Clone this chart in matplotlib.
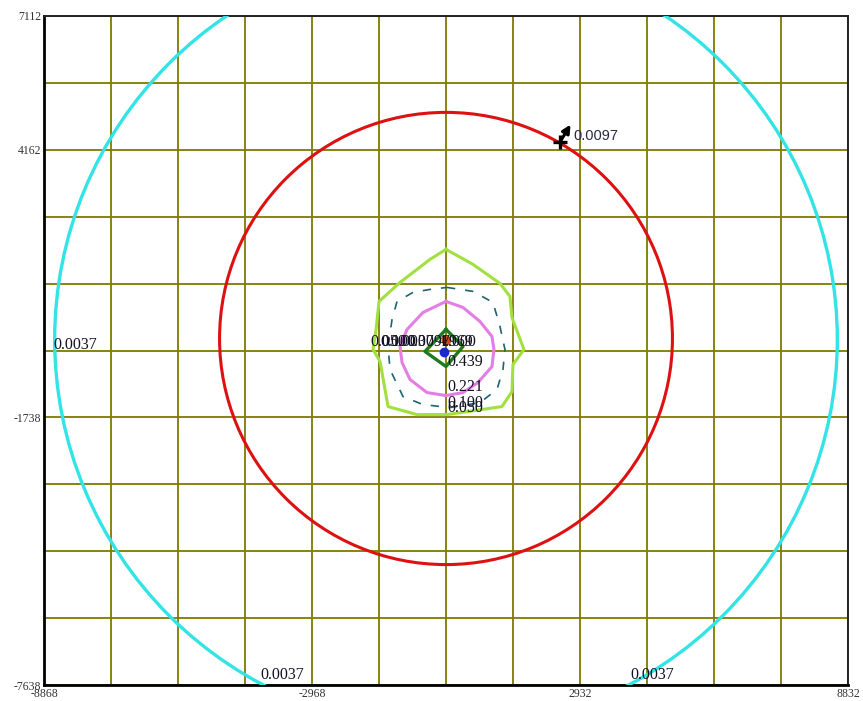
import numpy as np
import matplotlib.pyplot as plt
from matplotlib.patches import Circle
from matplotlib.ticker import FixedLocator

# axis frame
xmin, xmax = -8868, 8832
ymin, ymax = -7638, 7112
step = 1475
xtick_vals = [-8868, -2968, 2932, 8832]
xtick_text = ["-8868", "-2968", "2932", "8832"]
ytick_vals = [7112, 4162, -1738, -7638]
ytick_text = ["7112", "4162", "-1738", "-7638"]

# contour 0.0037 (cyan) and 0.0097 (red): nearly round, centre + radius
cyan_center = (-18, -20)
cyan_radius = 8615
red_center = (-18, 2)
red_radius = 4985

# contour 0.050 (lime)
lime_x = [-18, 576, 1170, 1390, 1434, 1698, 1456, 1434, 1214, 4, -656, -1294, -1470, -1624,
          -1558, -1492, -1030, -370, -18]
lime_y = [1967, 1636, 1216, 929, 466, -241, -572, -1168, -1499, -1676, -1676, -1499, -506, -241,
          201, 819, 1238, 1746, 1967]

# contour 0.100 (dashed teal)
teal_x = [4, 576, 1016, 1170, 1280, 1236, 1104, 730, 70, -524, -964, -1250, -1294, -1206,
          -1096, -744, -370, 4]
teal_y = [1128, 1040, 797, 267, -241, -683, -1124, -1411, -1522, -1455, -1279, -683, -175, 421,
          819, 1018, 1084, 1128]

# contour 0.221 (violet)
violet_x = [-18, 356, 730, 994, 1038, 994, 686, 356, -18, -436, -810, -986, -1030, -876, -524, -18]
violet_y = [819, 686, 377, 46, -241, -616, -970, -1190, -1257, -1190, -903, -528, -175, 201, 576, 819]

# contour 0.439 (dark green)
dgreen_x = [-18, 356, -18, -480, -18]
dgreen_y = [201, -175, -616, -285, 201]

# source points
src_red = (-18, -42)
src_blue = (-62, -307)

# contour labels: text, x, y, vertical alignment
labels = [
    ("0.0037", -8664, -131, "center"),
    ("0.0037", -4110, -7600, "bottom"),
    ("0.0037", 4030, -7600, "bottom"),
    ("0.439", 4, -506, "center"),
    ("0.221", 4, -1058, "center"),
    ("0.100", 4, -1411, "center"),
    ("0.050", 4, -1522, "center"),
    ("0.050", -1690, -86, "center"),
    ("0.100", -1470, -86, "center"),
    ("0.0037", -1250, -86, "center"),
    ("0.0097", -900, -86, "center"),
    ("4.969", -194, -86, "center"),
    ("1.000", -130, -86, "center"),
]
mark_0097 = (2490, 4330)
arrow_0097 = (2755, 4770)
text_0097 = (2776, 4462)

fig = plt.figure(figsize=(8.63, 7.01), dpi=100)
ax = fig.add_axes([44 / 863, 16 / 701, 804 / 863, 669 / 701])
ax.set_xlim(xmin, xmax)
ax.set_ylim(ymin, ymax)

ax.xaxis.set_major_locator(FixedLocator(xtick_vals))
ax.yaxis.set_major_locator(FixedLocator(ytick_vals))
ax.set_xticklabels(xtick_text, family="Liberation Serif", fontsize=8.5, color="#333333")
ax.set_yticklabels(ytick_text, family="Liberation Serif", fontsize=8.5, color="#333333")
ax.tick_params(length=0, pad=2)

for gx in np.arange(xmin, xmax + 1, step):
    ax.axvline(gx, color="#7f7a00", lw=1.3, zorder=1)
for gy in np.arange(ymax, ymin - 1, -step):
    ax.axhline(gy, color="#7f7a00", lw=1.3, zorder=1)

ax.add_patch(Circle(cyan_center, cyan_radius, fill=False, ec="#33e3e6", lw=2.4, zorder=3))
ax.add_patch(Circle(red_center, red_radius, fill=False, ec="#dd1111", lw=2.2, zorder=3))
ax.plot(lime_x, lime_y, color="#a2e040", lw=2.2, zorder=3)
ax.plot(teal_x, teal_y, color="#1d6470", lw=1.2, dashes=(5, 6), zorder=3)
ax.plot(violet_x, violet_y, color="#e47de4", lw=2.2, zorder=3)
ax.plot(dgreen_x, dgreen_y, color="#1e7a1e", lw=2.4, zorder=4)
ax.plot(*src_red, "o", color="#cc4a1a", ms=6, zorder=5)
ax.plot(*src_blue, "o", color="#1a2ad0", ms=6, zorder=5)

for t, x, y, va in labels:
    ax.text(x, y, t, family="Liberation Serif", fontsize=11.5, color="#111122",
            ha="left", va=va, zorder=6)

ax.plot(*mark_0097, "+", color="black", ms=10, mew=2.4, zorder=6)
ax.annotate("", xy=arrow_0097, xytext=mark_0097,
            arrowprops=dict(arrowstyle="-|>", color="black", lw=2.2, mutation_scale=12), zorder=6)
ax.text(*text_0097, "0.0097", family="Liberation Sans", fontsize=10.5, color="#2a2a44",
        ha="left", va="center", zorder=6)

for s in ["left", "bottom"]:
    ax.spines[s].set_linewidth(2)
    ax.spines[s].set_color("black")
for s in ["top", "right"]:
    ax.spines[s].set_linewidth(1.4)
    ax.spines[s].set_color("#222222")

fig.savefig("out.png", dpi=100)
